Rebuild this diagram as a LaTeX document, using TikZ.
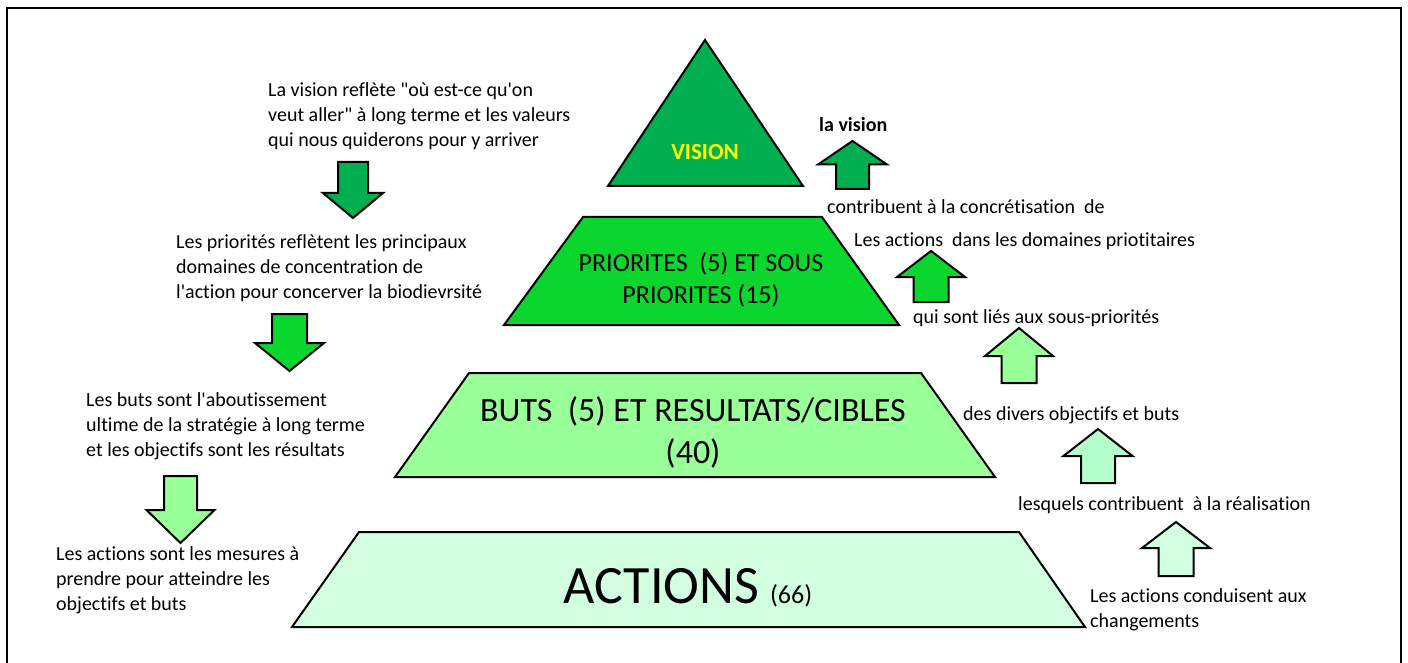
\documentclass[tikz,border=0pt]{standalone}
\usepackage{fontspec}
\setmainfont{Carlito}[Ligatures={TeXOff,CommonOff}]
\definecolor{vgreen}{RGB}{0,176,80}
\definecolor{pgreen}{RGB}{10,214,46}
\definecolor{bgreen}{RGB}{153,255,153}
\definecolor{mgreen}{RGB}{179,255,204}
\definecolor{agreen}{RGB}{209,255,224}
\definecolor{vyellow}{RGB}{255,255,0}
\newcommand\blockarrow[7]{%
  \filldraw[shapeline, fill=#7] (#1,#2) -- ({#1+#5},#3) -- ({#1+#6},#3) -- ({#1+#6},#4)
    -- ({#1-#6},#4) -- ({#1-#6},#3) -- ({#1-#5},#3) -- cycle;}
\tikzset{
  shapeline/.style={draw=black, line width=2pt, line join=miter},
  smalltext/.style={font=\fontsize{20}{25}\selectfont, inner sep=0pt, anchor=west, align=left},
}
\begin{document}
\begin{tikzpicture}[x=1pt,y=-1pt]
\useasboundingbox (0,0) rectangle (1408,663);
\draw[line width=2.6pt] (7,670) -- (7,8) -- (1401,8) -- (1401,670);

% pyramid levels
\filldraw[shapeline, fill=vgreen] (705,40) -- (803,186) -- (608,186) -- cycle;
\filldraw[shapeline, fill=pgreen] (583,217) -- (822,217) -- (899,325) -- (504,325) -- cycle;
\filldraw[shapeline, fill=bgreen] (469,373) -- (921,373) -- (995,477) -- (395,477) -- cycle;
\filldraw[shapeline, fill=agreen] (359,532) -- (1019,532) -- (1085,627) -- (292,627) -- cycle;

\node[font=\fontsize{23}{28}\selectfont\bfseries, text=vyellow, inner sep=0pt] (vision) at (705,152) {VISION};
\node[font=\fontsize{26}{32}\selectfont, align=center, inner sep=0pt] (prio) at (701,280) {PRIORITES\ \ (5) ET SOUS\\PRIORITES (15)};
\node[font=\fontsize{34}{42}\selectfont, align=center, inner sep=0pt] (buts) at (693,432) {BUTS\ \ (5) ET RESULTATS/CIBLES\\(40)};
\node[font=\fontsize{54}{60}\selectfont, inner sep=0pt, anchor=base] (actions) at (688,603) {ACTIONS\hspace{5pt}{\fontsize{26}{30}\selectfont\ (66)}};

% left descriptions
\node[smalltext] (t1) at (268,116) {La vision reflète "où est-ce qu'on\\veut aller" à long terme et les valeurs\\qui nous quiderons pour y arriver};
\node[smalltext] (t2) at (176,268) {Les priorités reflètent les principaux\\domaines de concentration de\\l'action pour concerver la biodievrsité};
\node[smalltext] (t3) at (86,426) {Les buts sont l'aboutissement\\ultime de la stratégie à long terme\\et les objectifs sont les résultats};
\node[smalltext] (t4) at (56,580) {Les actions sont les mesures à\\prendre pour atteindre les\\objectifs et buts};

% right descriptions
\node[smalltext, font=\fontsize{20}{25}\selectfont\bfseries] (r1) at (819,125) {la vision};
\node[smalltext] (r2) at (827,207) {contribuent à la concrétisation\ \ de};
\node[smalltext] (r3) at (854,241) {Les actions\ \ dans les domaines priotitaires};
\node[smalltext] (r4) at (913,318) {qui sont liés aux sous-priorités};
\node[smalltext] (r5) at (963,415) {des divers objectifs et buts};
\node[smalltext] (r6) at (1018,505) {lesquels contribuent\ \ à la réalisation};
\node[smalltext] (r7) at (1090,610) {Les actions conduisent aux\\changements};

% down arrows (left)
\blockarrow{353}{218}{193}{162}{30}{15}{vgreen}
\blockarrow{289.5}{371}{343}{314}{34.5}{17.5}{pgreen}
\blockarrow{180.5}{543}{510}{476}{34}{16.5}{bgreen}

% up arrows (right)
\blockarrow{852.5}{141}{164.5}{189}{34.5}{16.5}{vgreen}
\blockarrow{931}{251}{277}{302}{34}{17.5}{pgreen}
\blockarrow{1019}{328}{356}{383}{34}{17.5}{bgreen}
\blockarrow{1098}{429}{456}{483}{34.5}{17}{mgreen}
\blockarrow{1176}{522}{548}{576}{34}{17.5}{agreen}
\end{tikzpicture}
\end{document}
